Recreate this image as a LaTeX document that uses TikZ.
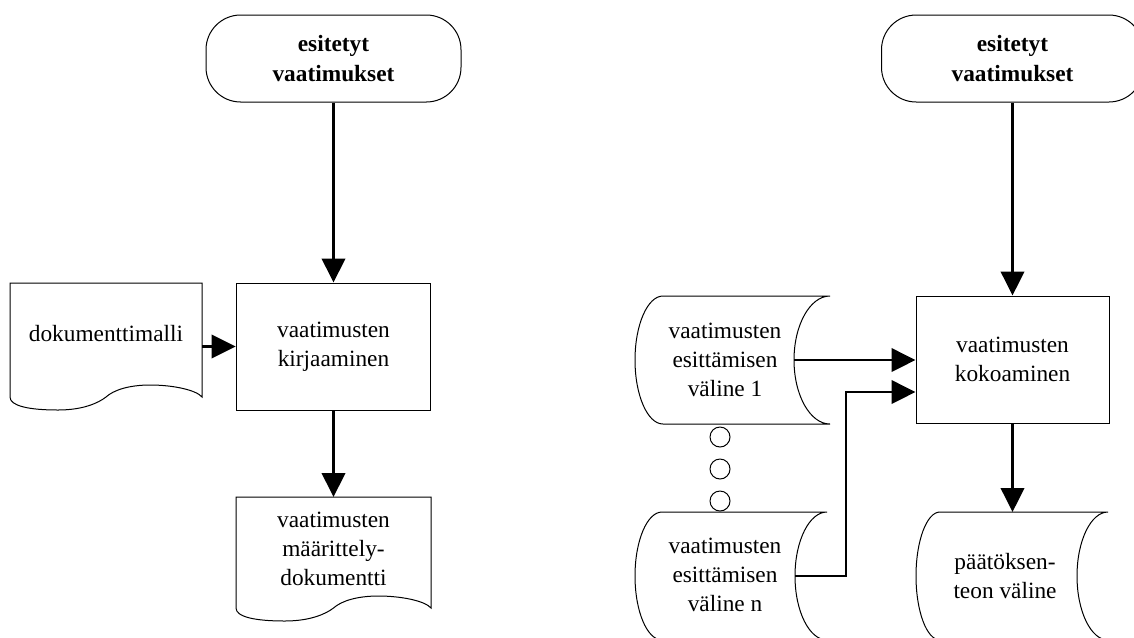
\documentclass[tikz,border=0pt]{standalone}
\usepackage{fontspec}
\setmainfont{Liberation Serif}
\usetikzlibrary{arrows.meta}

% stored-data symbol: top-left x, top-right x, top y, left bulge, right bulge (height 128)
\newcommand\storedpath[5]{%
  \draw[outline] (#1,#3) -- (#2,#3)
    .. controls ({#2-0.552*#5},#3) and ({#2-#5},{#3+28.7}) .. ({#2-#5},{#3+64})
    .. controls ({#2-#5},{#3+99.3}) and ({#2-0.552*#5},{#3+128}) .. (#2,{#3+128})
    -- (#1,{#3+128})
    .. controls ({#1-0.552*#4},{#3+128}) and ({#1-#4},{#3+99.3}) .. ({#1-#4},{#3+64})
    .. controls ({#1-#4},{#3+28.7}) and ({#1-0.552*#4},#3) .. (#1,#3) -- cycle;}

% document symbol: left x, right x, top y, y where the sides end
\newcommand\docpath[4]{%
  \draw[outline] (#1,#4) -- (#1,#3) -- (#2,#3) -- (#2,#4)
    .. controls ({#1+0.97*(#2-#1)},{#4-7}) and ({#1+0.85*(#2-#1)},{#4-12}) .. ({#1+0.73*(#2-#1)},{#4-12})
    .. controls ({#1+0.62*(#2-#1)},{#4-12}) and ({#1+0.54*(#2-#1)},{#4-7}) .. ({#1+0.5*(#2-#1)},#4)
    .. controls ({#1+0.46*(#2-#1)},{#4+6}) and ({#1+0.38*(#2-#1)},{#4+13}) .. ({#1+0.25*(#2-#1)},{#4+13})
    .. controls ({#1+0.1*(#2-#1)},{#4+13}) and (#1,{#4+9}) .. (#1,#4) -- cycle;}

\begin{document}
\begin{tikzpicture}[x=0.75pt,y=-0.75pt,
  outline/.style={draw=black,line width=0.75pt},
  txt/.style={font=\fontsize{17.5}{22}\selectfont,align=center,inner sep=0pt},
  process/.style={outline,txt,minimum width=146pt,minimum height=95.25pt},
  terminal/.style={outline,txt,font=\fontsize{17.5}{22}\selectfont\bfseries,
    rounded corners=26pt,minimum height=65.25pt},
  dotc/.style={outline,circle,inner sep=0pt,minimum size=15pt},
  flow/.style={line width=2pt,-{Triangle[length=18pt,width=17.5pt]}}]

\useasboundingbox[fill=white] (0,0) rectangle (1134,637);

% ---------------- left chart ----------------
\node[terminal,minimum width=191.25pt] (t1) at (333.5,58.5) {esitetyt\\vaatimukset};
\node[process] (b1) at (333.5,346.5) {vaatimusten\\kirjaaminen};

\docpath{10}{202}{283}{397}
\node[txt] (d1) at (106,334) {dokumenttimalli};
\coordinate (d1e) at (202,346.5);

\docpath{236}{431}{497}{608}
\node[txt] (d2) at (333.5,549) {vaatimusten\\määrittely-\\dokumentti};
\coordinate (d2n) at (333.5,497);

\draw[flow] (t1.south) -- (b1.north);
\draw[flow] (d1e) -- (b1.west |- d1e);
\draw[flow] (b1.south) -- (d2n);

% ---------------- right chart ----------------
\node[terminal,minimum width=196.5pt] (t2) at (1012.5,58.5) {esitetyt\\vaatimukset};
\node[process,minimum width=144.75pt] (b2) at (1012.5,359.5) {vaatimusten\\kokoaminen};

\storedpath{663}{830}{296}{28}{36}
\node[txt] (v1) at (725,360) {vaatimusten\\esittämisen\\väline 1};
\coordinate (v1e) at (794,360);

\node[dotc] (c1) at (720,437) {};
\node[dotc] (c2) at (720,469) {};
\node[dotc] (c3) at (720,501) {};

\storedpath{662}{827}{512}{27}{32}
\node[txt] (vn) at (725,575) {vaatimusten\\esittämisen\\väline n};
\coordinate (vne) at (795,576);
\coordinate (bend) at (846,392);

\storedpath{940}{1108}{512}{24}{31}
\node[txt] (pv) at (1005,576) {päätöksen-\\teon väline};
\coordinate (pvn) at (1012.5,512);

\draw[flow] (t2.south) -- (b2.north);
\draw[flow] (v1e) -- (b2.west |- v1e);
\draw[flow] (vne) -| (bend) -- (b2.west |- bend);
\draw[flow] (b2.south) -- (pvn);

\end{tikzpicture}
\end{document}
